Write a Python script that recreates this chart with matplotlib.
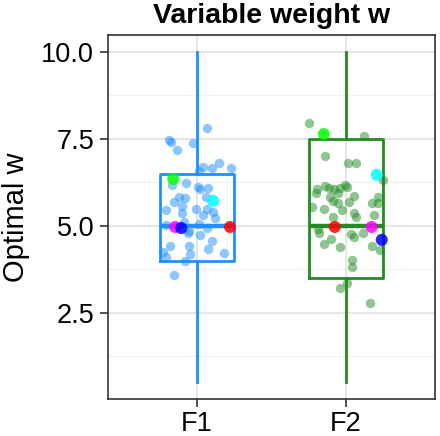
import numpy as np
import matplotlib
matplotlib.use('Agg')
import matplotlib.pyplot as plt

plt.rcParams['font.family'] = ['Liberation Sans', 'DejaVu Sans']

groups = ['F1', 'F2']
colors = ['#1E90FF', '#228B22']

# box summaries
q1 = [4.0, 3.5]
med = [5.0, 5.0]
q3 = [6.5, 7.5]
wlo = [0.5, 0.5]
whi = [10.0, 10.0]

# jittered points (x, w)
f1_x = [1.065, 0.812, 0.826, 0.864, 0.971, 1.036, 1.101, 1.150, 1.226, 1.011,
        0.828, 0.924, 1.005, 1.020, 1.076, 1.056, 0.881, 0.915, 0.846, 0.899,
        0.790, 0.991, 1.069, 0.897, 1.109, 1.038, 1.121, 0.792, 0.908, 0.942,
        1.009, 1.065, 1.020, 0.938, 1.099, 0.814, 0.942, 1.076, 0.770, 0.792,
        0.953, 1.183, 0.915, 0.841]
f1_w = [7.81, 7.47, 7.41, 7.18, 7.39, 6.70, 6.66, 6.80, 6.66, 6.58,
        6.18, 6.23, 6.11, 6.05, 6.08, 5.82, 5.84, 5.80, 5.70, 5.57,
        5.46, 5.49, 5.49, 5.36, 5.41, 5.32, 5.22, 5.03, 5.11, 4.84,
        5.06, 4.93, 4.74, 4.79, 4.58, 4.41, 4.43, 4.35, 4.26, 4.12,
        4.20, 4.23, 4.00, 3.59]

f2_x = [1.752, 2.121, 1.861, 2.018, 2.069, 2.248, 1.857, 1.805, 1.797, 1.884,
        1.924, 1.958, 1.995, 2.009, 1.895, 1.946, 1.917, 1.951, 2.025, 2.054,
        1.772, 1.852, 1.973, 2.174, 2.215, 2.215, 2.058, 2.069, 2.193, 1.913,
        1.812, 1.817, 2.036, 2.054, 2.114, 1.901, 1.852, 1.964, 2.174, 2.230,
        2.042, 2.040, 1.958, 2.007, 2.166]
f2_w = [7.95, 7.59, 7.01, 6.80, 6.82, 6.32, 6.16, 6.05, 5.94, 6.10,
        6.05, 6.08, 6.17, 6.11, 5.84, 5.96, 5.72, 5.65, 5.70, 5.87,
        5.55, 5.48, 5.46, 5.67, 5.82, 5.65, 5.36, 5.27, 5.32, 5.25,
        4.91, 4.79, 4.76, 4.69, 4.79, 4.62, 4.48, 4.38, 4.43, 4.31,
        4.02, 3.83, 3.21, 3.37, 2.78]

# highlighted runs
hl_colors = ['#00FF00', '#00FFFF', '#FF0000', '#FF00FF', '#0000FF']
hl_f1_x = [0.839, 1.107, 1.221, 0.852, 0.893]
hl_f1_w = [6.35, 5.72, 4.97, 4.97, 4.94]
hl_f2_x = [1.852, 2.208, 1.926, 2.174, 2.242]
hl_f2_w = [7.64, 6.47, 4.97, 4.97, 4.60]

fig = plt.figure(figsize=(4.4, 4.36), dpi=100)
ax = fig.add_axes([0.2455, 0.0849, 0.743, 0.8337])

# grid
for v in [2.5, 5.0, 7.5, 10.0]:
    ax.axhline(v, color='#E3E3E3', lw=1.3, zorder=0)
for v in [1.25, 3.75, 6.25, 8.75]:
    ax.axhline(v, color='#EFEFEF', lw=0.8, zorder=0)
for v in [1, 2]:
    ax.axvline(v, color='#E3E3E3', lw=1.3, zorder=0)

for i in range(2):
    st = [dict(med=med[i], q1=q1[i], q3=q3[i], whislo=wlo[i], whishi=whi[i], fliers=[])]
    c = colors[i]
    ax.bxp(st, positions=[i + 1], widths=0.5, showcaps=False, patch_artist=False,
           boxprops=dict(color=c, lw=2.0),
           whiskerprops=dict(color=c, lw=2.0),
           medianprops=dict(color=c, lw=3.2, solid_capstyle='butt'),
           manage_ticks=False, zorder=2)

ax.scatter(f1_x, f1_w, s=46, color=colors[0], alpha=0.5, lw=0, zorder=3)
ax.scatter(f2_x, f2_w, s=46, color=colors[1], alpha=0.5, lw=0, zorder=3)
ax.scatter(hl_f1_x, hl_f1_w, s=75, c=hl_colors, alpha=0.85, lw=0, zorder=4)
ax.scatter(hl_f2_x, hl_f2_w, s=75, c=hl_colors, alpha=0.85, lw=0, zorder=4)

ax.set_xlim(0.4, 2.6)
ax.set_ylim(0.025, 10.475)
ax.set_xticks([1, 2])
ax.set_xticklabels(groups)
ax.set_yticks([2.5, 5.0, 7.5, 10.0])
ax.set_yticklabels(['2.5', '5.0', '7.5', '10.0'])
ax.tick_params(labelsize=19.5, length=6, width=1.2, color='#333333', labelcolor='black', pad=3)
ax.tick_params(axis='y', pad=4)
for sp in ax.spines.values():
    sp.set_color('#333333')
    sp.set_linewidth(1.2)

ax.set_ylabel('Optimal w', fontsize=21, labelpad=8)
ax.set_title('Variable weight w', fontsize=20.5, fontweight='bold', pad=9)

fig.savefig('out.png', dpi=100)
